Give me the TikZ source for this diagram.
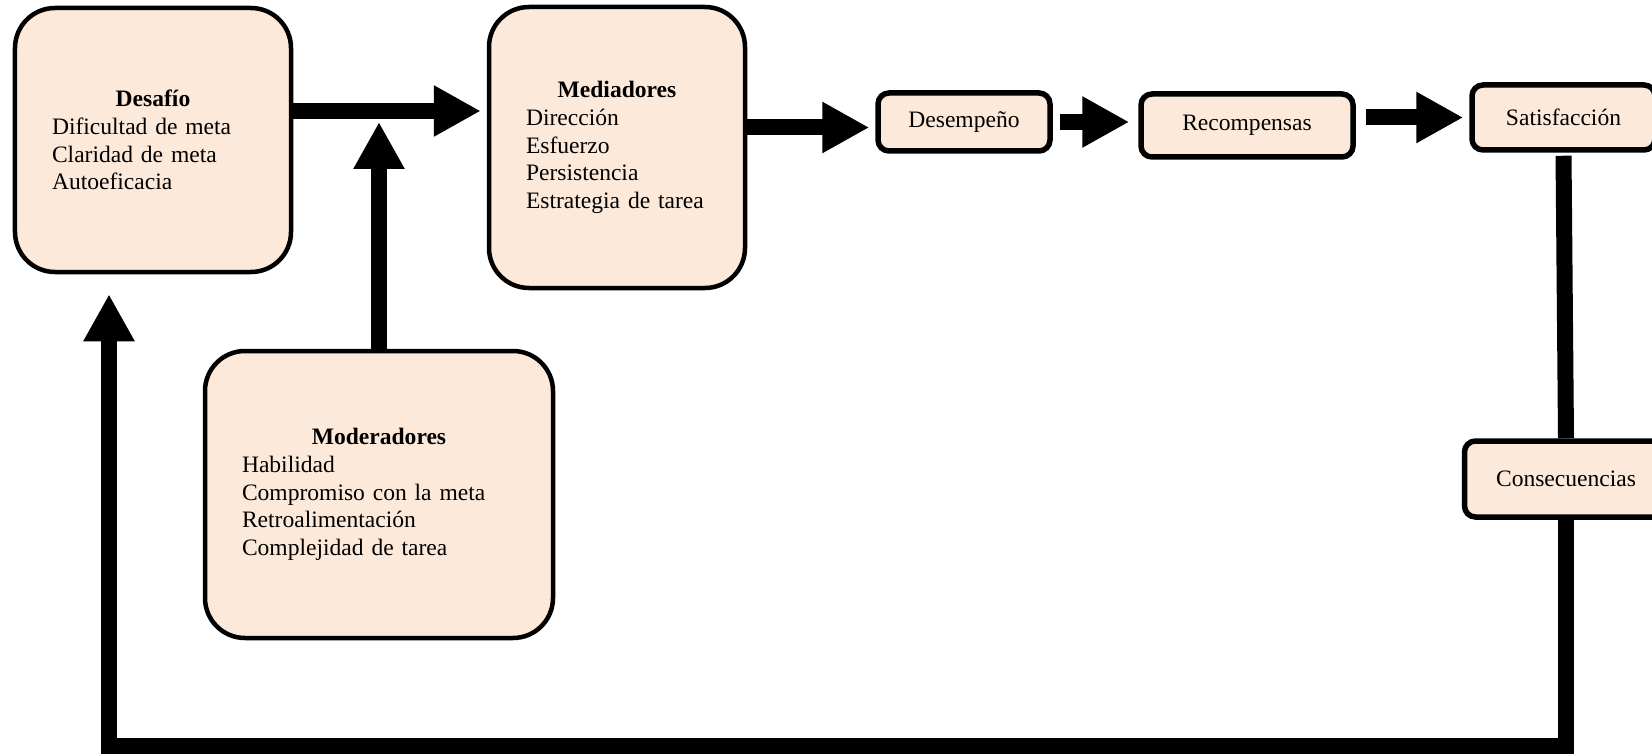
\documentclass[tikz,border=0pt]{standalone}
\usepackage{fontspec}
\setmainfont{Liberation Serif}
\usepackage{tikz}
\usetikzlibrary{arrows.meta, positioning}
\definecolor{peach}{RGB}{252, 233, 218}

\begin{document}
\begin{tikzpicture}[
  bigbox/.style={rectangle, rounded corners=0.8cm, draw=black, line width=0.09cm,
                 fill=peach, inner sep=0pt, align=left},
  smallbox/.style={rectangle, rounded corners=0.22cm, draw=black, line width=0.11cm,
                   fill=peach, inner sep=0pt, text centered},
  arrow/.style={-{Triangle[length=0.94cm, width=0.96cm]}, line width=0.32cm, color=black},
  link/.style={line width=0.32cm, color=black},
  font=\fontsize{13.4}{15.8}\selectfont
]
  \useasboundingbox (0,0) rectangle (33.04,-15.1);

  \node[bigbox, minimum width=5.52cm, minimum height=5.28cm, text width=4.04cm] (desafio) at (3.06,-2.80)
    {\makebox[\linewidth]{\textbf{Desafío}}\\Dificultad de meta\\Claridad de meta\\Autoeficacia};
  \node[bigbox, minimum width=5.12cm, minimum height=5.62cm, text width=3.64cm] (mediadores) at (12.34,-2.95)
    {\makebox[\linewidth]{\textbf{Mediadores}}\\Dirección\\Esfuerzo\\Persistencia\\Estrategia de tarea};
  \node[bigbox, minimum width=6.96cm, minimum height=5.74cm, text width=5.48cm] (moderadores) at (7.58,-9.89)
    {\makebox[\linewidth]{\textbf{Moderadores}}\\Habilidad\\Compromiso con la meta\\Retroalimentación\\Complejidad de tarea};

  \node[smallbox, minimum width=3.44cm, minimum height=1.16cm] (desempeno)     at (19.28,-2.44) {Desempeño};
  \node[smallbox, minimum width=4.24cm, minimum height=1.26cm] (recompensas)   at (24.94,-2.51) {Recompensas};
  \node[smallbox, minimum width=3.66cm, minimum height=1.30cm] (satisfaccion)  at (31.27,-2.35) {Satisfacción};
  \node[smallbox, minimum width=4.06cm, minimum height=1.52cm] (consecuencias) at (31.32,-9.58) {Consecuencias};

  \coordinate (d1) at ([yshift=0.58cm]desafio.east);
  \coordinate (m1) at ([yshift=0.40cm]mediadores.east);
  \coordinate (fb) at (2.18,-14.92);

  \draw[arrow, shorten >=0.12cm] (d1) -- (d1 -| mediadores.west);
  \draw[arrow, shorten >=0.22cm] (moderadores.north) -- (moderadores.north |- d1);
  \draw[arrow, shorten >=0.12cm] (m1) -- (m1 -| desempeno.west);
  \draw[arrow, shorten <=0.14cm, shorten >=0.18cm] (desempeno.east) -- (desempeno.east -| recompensas.west);
  \draw[arrow, shorten <=0.2cm, shorten >=0.12cm] (recompensas.east |- satisfaccion.west) -- (satisfaccion.west);
  \draw[link, shorten <=0.06cm] (satisfaccion.south) -- (consecuencias.north);
  \draw[arrow, line join=miter, shorten >=0.4cm] (consecuencias.south) |- (fb) -- (fb |- desafio.south);
\end{tikzpicture}
\end{document}
